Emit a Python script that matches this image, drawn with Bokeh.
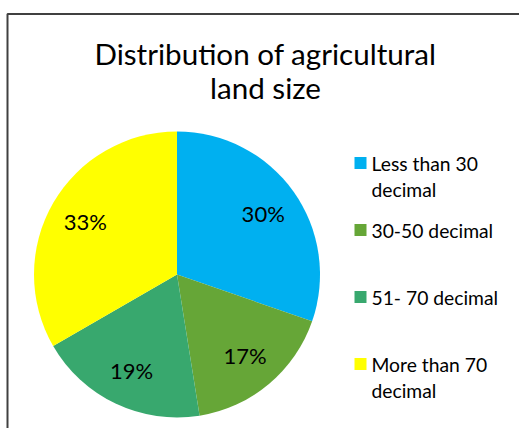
import numpy as np
from bokeh.plotting import figure
from bokeh.models import Range1d, ColumnDataSource
from bokeh.core.properties import value
from bokeh.embed import file_html
from bokeh.resources import INLINE

# ---- data ----
title_lines = ["Distribution of agricultural", "land size"]
categories = ["Less than 30 decimal", "30-50 decimal", "51- 70 decimal", "More than 70 decimal"]
legend_lines = [["Less than 30", "decimal"], ["30-50 decimal"], ["51- 70 decimal"], ["More than 70", "decimal"]]
shares = [30, 17, 19, 33]
colors = ["#00B0F0", "#66A637", "#38A86E", "#FFFF00"]

# ---- layout (pixel-like data space) ----
W, H = 519, 428
FONT = "Lato"
cx, cy, R = 176.5, 154.0, 143.0

p = figure(width=W, height=H, output_backend="svg", toolbar_location=None,
           x_range=Range1d(0, W), y_range=Range1d(0, H),
           min_border=0, min_border_left=0, min_border_right=0,
           min_border_top=0, min_border_bottom=0)
p.axis.visible = False
p.grid.visible = False
p.outline_line_color = None
p.background_fill_color = "white"
p.border_fill_color = "white"

# chart border (Excel chart area outline)
p.quad(left=[7], right=[W + 50], top=[H - 13.5], bottom=[-50],
       fill_color=None, line_color="#404040", line_width=2)

# pie
vals = np.array(shares, dtype=float)
frac = vals / vals.sum()
cum = np.concatenate([[0], np.cumsum(frac)])
start = np.pi / 2 - 2 * np.pi * cum[:-1]
end = np.pi / 2 - 2 * np.pi * cum[1:]
mid = (start + end) / 2
src = ColumnDataSource(dict(start=start, end=end, color=colors,
                            x=[cx] * len(vals), y=[cy] * len(vals)))
p.wedge(x="x", y="y", radius=R, start_angle="start", end_angle="end",
        direction="clock", fill_color="color", line_color=None, source=src)

# percentage labels
lr = 0.74 * R
lab_src = ColumnDataSource(dict(
    x=cx + lr * np.cos(mid),
    y=cy + lr * np.sin(mid),
    t=[f"{v}%" for v in shares]))
p.text(x="x", y="y", text="t", source=lab_src, text_font=value(FONT),
       text_font_size="22px", text_align="center", text_baseline="middle",
       text_color="#000000")

# title
tx = 265
p.text(x=[tx, tx], y=[H - 52.5, H - 86.5], text=title_lines, text_font=value(FONT),
       text_font_size="29.6px", text_align="center", text_baseline="middle",
       text_color="#000000")

# legend
sq_x, txt_x = 360, 371
top_y, step, line_h = H - 162.5, 67.0, 26.0
sq_y = [top_y - i * step for i in range(len(categories))]
p.scatter(x=[sq_x] * len(categories), y=sq_y, marker="square", size=12,
          fill_color=colors, line_color=None)
lx, ly, lt = [], [], []
for i, lines in enumerate(legend_lines):
    for j, ln in enumerate(lines):
        lx.append(txt_x)
        ly.append(sq_y[i] - j * line_h)
        lt.append(ln)
p.text(x=lx, y=ly, text=lt, text_font=value(FONT), text_font_size="19.3px",
       text_align="left", text_baseline="middle", text_color="#000000")

open("out.html", "w").write(file_html(p, INLINE))
